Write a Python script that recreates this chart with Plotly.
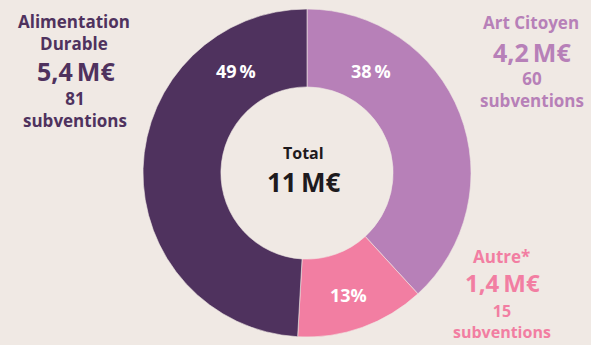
import plotly.graph_objects as go

# Data
categories = ["Art Citoyen", "Autre*", "Alimentation Durable"]
amounts_meur = [4.2, 1.4, 5.4]
grants = [60, 15, 81]
total_label = "11\u2009M€"
colors = ["#B780B8", "#F27EA2", "#4F325E"]
bg = "#F0E9E4"
font = "Open Sans"

total = sum(amounts_meur)
pcts = [round(v / total * 100) for v in amounts_meur]

def fr(v):
    return f"{v:.1f}".replace(".", ",")

fig = go.Figure(go.Pie(
    labels=categories,
    values=amounts_meur,
    sort=False,
    direction="clockwise",
    rotation=0,
    hole=0.525,
    marker=dict(colors=colors, line=dict(color=bg, width=0.6)),
    textinfo="none",
    hoverinfo="label+value+percent",
    showlegend=False,
    domain=dict(x=[143/591, 471/591], y=[8/345, 336/345]),
))

W, H = 591, 345
anns = []
def add(text, x, y, size, color, yanchor="middle"):
    anns.append(dict(text=text, x=x / W, y=1 - y / H, xref="paper", yref="paper",
                     xanchor="center", yanchor=yanchor, showarrow=False,
                     font=dict(family=font, size=size, color=color, weight="bold")))

# percentages
add(f"{pcts[2]}\u2009%", 236, 71, 18, "white")
add(f"{pcts[0]}\u2009%", 371, 71, 18, "white")
add(f"{pcts[1]}%", 348, 295, 18, "white")

# centre
add("Total", 304, 153, 16, "#1E1A1D")
add(total_label, 304, 182, 26, "#1E1A1D")

# Alimentation Durable
c = colors[2]
add("Alimentation<br>Durable", 74, 32, 17, c)
add(f"{fr(amounts_meur[2])}\u2009M€", 76, 71, 25, c)
add(f"{grants[2]}<br>subventions", 75, 110, 17, c)

# Art Citoyen
c = colors[0]
add("Art Citoyen", 531, 22, 17, c)
add(f"{fr(amounts_meur[0])}\u2009M€", 532, 52, 25, c)
add(f"{grants[0]}<br>subventions", 532, 89, 17, c)

# Autre
c = colors[1]
add("Autre*", 501, 256, 17, c)
add(f"{fr(amounts_meur[1])}\u2009M€", 502, 282, 24, c)
add(f"{grants[1]}<br>subventions", 502, 345, 16, c, yanchor="bottom")

fig.update_layout(
    width=W, height=H,
    margin=dict(l=0, r=0, t=0, b=0),
    paper_bgcolor=bg, plot_bgcolor=bg,
    annotations=anns,
)
fig.write_html("out.html")
